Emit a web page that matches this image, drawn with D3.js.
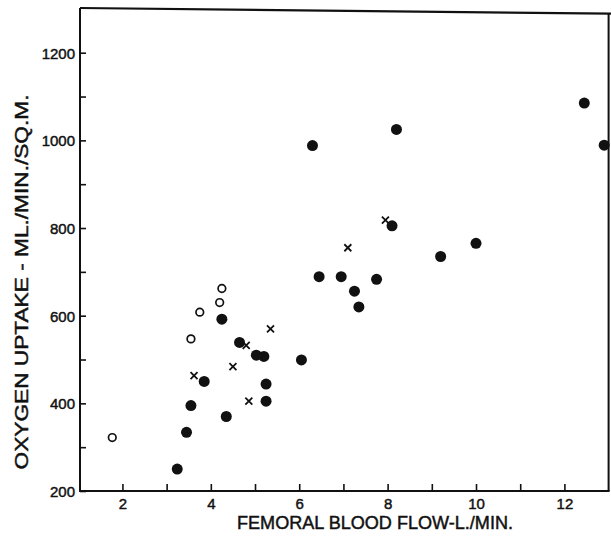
<!DOCTYPE html>
<html>
<head>
<meta charset="utf-8">
<script src="https://cdn.jsdelivr.net/npm/d3@7/dist/d3.min.js"></script>
<style>
  html, body { margin: 0; padding: 0; background: #fff; }
  svg { display: block; }
  text { font-family: "Liberation Sans", Arial, sans-serif; fill: #111; stroke: #111; stroke-width: 0.45px; }
</style>
</head>
<body>
<svg id="chart" width="611" height="536"></svg>
<script>
// Femoral blood flow (L/min) against oxygen uptake (ml/min/sq.m.)
// Filled circles
const solidFlow   = [3.24, 3.45, 3.55, 3.85, 4.35, 4.25, 4.65, 5.03, 5.20, 5.25, 5.25, 6.05,
                     6.30, 6.45, 6.95, 7.25, 7.35, 7.75, 8.10, 8.20, 9.20, 10.0, 12.45, 12.9];
const solidUptake = [250, 334, 395, 450, 370, 592, 539, 510, 507, 444, 405, 499,
                     988, 689, 689, 656, 620, 683, 805, 1025, 735, 765, 1085, 989];
// Open circles
const openFlow    = [1.77, 3.55, 3.75, 4.20, 4.25];
const openUptake  = [322, 547, 608, 630, 662];
// Crosses
const crossFlow   = [3.62, 4.50, 4.80, 4.86, 5.35, 7.10, 7.95];
const crossUptake = [463, 484, 532, 405, 570, 755, 818];

const xTicks = [2, 3, 4, 5, 6, 7, 8, 9, 10, 11, 12];
const yTicks = [200, 300, 400, 500, 600, 700, 800, 900, 1000, 1100, 1200];

const xLabel = "FEMORAL BLOOD FLOW-L./MIN.";
const yLabel = "OXYGEN UPTAKE - ML./MIN./SQ.M.";

const svg = d3.select("#chart");
const left = 80, right = 608.6, bottom = 491;

const x = d3.scaleLinear().domain([1.04, 13]).range([left, right]);
const y = d3.scaleLinear().domain([200, 1300]).range([bottom, bottom - 1100 * 0.4383]);

const ink = "#111";

// Frame
const frame = svg.append("g").attr("stroke", ink).attr("fill", "none").attr("stroke-width", 2);
frame.append("line").attr("x1", x(1.04)).attr("x2", x(1.04)).attr("y1", y(1302)).attr("y2", y(200));
frame.append("line").attr("x1", x(1.04) - 1).attr("x2", x(13) + 1).attr("y1", y(200)).attr("y2", y(200));
frame.append("line").attr("x1", x(13)).attr("x2", x(13)).attr("y1", y(1290)).attr("y2", y(200));
frame.append("line").attr("x1", x(1.04)).attr("x2", 611).attr("y1", y(1302)).attr("y2", y(1289))
  .attr("stroke-width", 2.2);

// Axes with inward ticks
const yAxis = d3.axisLeft(y).tickValues(yTicks).tickSize(-6).tickPadding(5)
  .tickFormat(d => d % 200 === 0 ? d : "");
const gy = svg.append("g").attr("transform", `translate(${left},0)`).call(yAxis);
gy.select(".domain").remove();
gy.selectAll(".tick line").attr("stroke", ink).attr("stroke-width", 1.6);
gy.selectAll(".tick text").attr("font-size", 15).attr("fill", ink).attr("dy", "0.36em");

const xAxis = d3.axisBottom(x).tickValues(xTicks).tickSize(-7).tickPadding(7)
  .tickFormat(d => d % 2 === 0 ? d : "");
const gx = svg.append("g").attr("transform", `translate(0,${bottom})`).call(xAxis);
gx.select(".domain").remove();
gx.selectAll(".tick line").attr("stroke", ink).attr("stroke-width", 1.6);
gx.selectAll(".tick text").attr("font-size", 15).attr("fill", ink);

// Axis titles
svg.append("text")
  .attr("x", 375).attr("y", 529)
  .attr("text-anchor", "middle")
  .attr("font-size", 17.5)
  .attr("textLength", 276).attr("lengthAdjust", "spacingAndGlyphs")
  .text(xLabel);

svg.append("text")
  .attr("transform", `translate(28, ${282}) rotate(-90)`)
  .attr("text-anchor", "middle")
  .attr("font-size", 17.5)
  .attr("textLength", 375).attr("lengthAdjust", "spacingAndGlyphs")
  .text(yLabel);

// Points
const solid = solidFlow.map((f, i) => ({ f, u: solidUptake[i] }));
const open = openFlow.map((f, i) => ({ f, u: openUptake[i] }));
const cross = crossFlow.map((f, i) => ({ f, u: crossUptake[i] }));

svg.append("g").selectAll("circle").data(solid).join("circle")
  .attr("cx", d => x(d.f)).attr("cy", d => y(d.u)).attr("r", 5.5)
  .attr("fill", ink);

svg.append("g").selectAll("circle").data(open).join("circle")
  .attr("cx", d => x(d.f)).attr("cy", d => y(d.u)).attr("r", 3.8)
  .attr("fill", "#fff").attr("stroke", ink).attr("stroke-width", 1.7);

const s = 3.5;
svg.append("g").selectAll("path").data(cross).join("path")
  .attr("transform", d => `translate(${x(d.f)},${y(d.u)})`)
  .attr("d", `M${-s},${-s}L${s},${s}M${s},${-s}L${-s},${s}`)
  .attr("stroke", ink).attr("stroke-width", 1.8).attr("fill", "none");
</script>
</body>
</html>
